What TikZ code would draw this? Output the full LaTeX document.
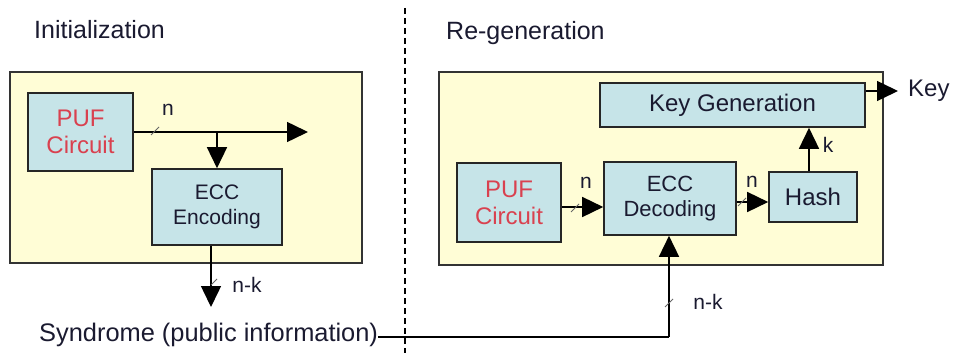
\documentclass[tikz,border=0pt]{standalone}
\usepackage{fontspec}
\setmainfont{Liberation Sans}
\usetikzlibrary{arrows.meta,calc}
\definecolor{panelfill}{HTML}{FFFDD6}
\definecolor{boxfill}{HTML}{C6E4E8}
\definecolor{pufred}{HTML}{D9414F}
\definecolor{txt}{HTML}{1A1A30}
\tikzset{
  panel/.style={draw=black!80, line width=1.6pt, fill=panelfill},
  blk/.style={draw=black!85, line width=1.6pt, fill=boxfill, align=center, inner sep=0pt, text=txt},
  arr/.style={line width=1.5pt, -{Triangle[length=21pt,width=20pt]}},
  wire/.style={line width=1.5pt},
  tickmark/.style={line width=0.9pt, black!60},
  lbl/.style={font=\fontsize{21}{23}\selectfont, text=txt, inner sep=0pt},
}
\begin{document}
\begin{tikzpicture}[x=1pt,y=-1pt]
\useasboundingbox (0,0) rectangle (956,353);
% titles and separator
\node[anchor=west, inner sep=0pt, text=txt, font=\fontsize{25}{28}\selectfont] (tinit) at (34,30) {Initialization};
\node[anchor=west, inner sep=0pt, text=txt, font=\fontsize{25}{28}\selectfont] (tregen) at (446,33) {Re-generation};
\draw[line width=1.2pt, dash pattern=on 6pt off 4pt] (405,8) -- (405,353);
% panels
\filldraw[panel] (10,72) rectangle (362,263);
\filldraw[panel] (439,72) rectangle (883,265);
% left side
\node[blk, minimum width=105pt, minimum height=78pt, text=pufred, font=\fontsize{24}{27}\selectfont] (puf1) at (80.5,132) {PUF\\Circuit};
\node[blk, minimum width=130pt, minimum height=76pt, font=\fontsize{21}{25}\selectfont] (enc) at (217,207) {ECC\\Encoding};
\coordinate (j1) at (217,132);
\coordinate (out1) at (308,132);
\coordinate (synd) at (211,307);
\draw[wire] (puf1.east) -- (j1);
\draw[arr] (j1) -- (enc.north);
\draw[arr] (j1) -- (out1);
\draw[arr] ([xshift=-6pt]enc.south) -- (synd);
\draw[tickmark] (155,131) ++(-4,4) -- ++(8,-8);
\draw[tickmark] (214,282) ++(-3,3) -- ++(6,-6);
\node[lbl] (ln1) at (168,110) {n};
\node[lbl] (lnk1) at (247,285) {n-k};
\node[anchor=west, inner sep=0pt, text=txt, font=\fontsize{25.4}{28}\selectfont] (syn) at (39,335) {Syndrome (public information)};
% right side
\node[blk, minimum width=104pt, minimum height=79pt, text=pufred, font=\fontsize{24}{27}\selectfont] (puf2) at (509,202.5) {PUF\\Circuit};
\node[blk, minimum width=132pt, minimum height=73pt, font=\fontsize{22}{25}\selectfont] (dec) at (670,198.5) {ECC\\Decoding};
\node[blk, minimum width=88pt, minimum height=50pt, font=\fontsize{24}{27}\selectfont] (hash) at (813,197) {Hash};
\node[blk, minimum width=265pt, minimum height=44pt, font=\fontsize{24}{27}\selectfont] (kg) at (732.5,105) {Key Generation};
\node[anchor=west, inner sep=0pt, text=txt, font=\fontsize{24}{27}\selectfont] (key) at (908,91) {Key};
\coordinate (keyout) at (898,91);
\draw[arr] ([yshift=-4.5pt]puf2.east) -- ([yshift=-4.5pt]puf2.east -| dec.west);
\draw[arr] ([yshift=-3.5pt]dec.east) -- ([yshift=-3.5pt]dec.east -| hash.west);
\draw[arr] ([xshift=-4pt]hash.north) -- ([xshift=-4pt]hash.north |- kg.south);
\draw[arr] ([yshift=14pt]kg.east) -- (keyout);
\coordinate (corner) at (669,337);
\draw[wire] (syn.east |- corner) -- (corner);
\draw[arr] (corner) -- (corner |- dec.south);
\draw[tickmark] (575,208) ++(-4,4) -- ++(8,-8);
\draw[tickmark] (742,202) ++(-4,4) -- ++(8,-8);
\draw[tickmark] (669,303) ++(-4,4) -- ++(8,-8);
\node[lbl] (ln2) at (586,183) {n};
\node[lbl] (ln3) at (752,182) {n};
\node[lbl] (lk) at (828,145) {k};
\node[lbl] (lnk2) at (708,302) {n-k};
\end{tikzpicture}
\end{document}
